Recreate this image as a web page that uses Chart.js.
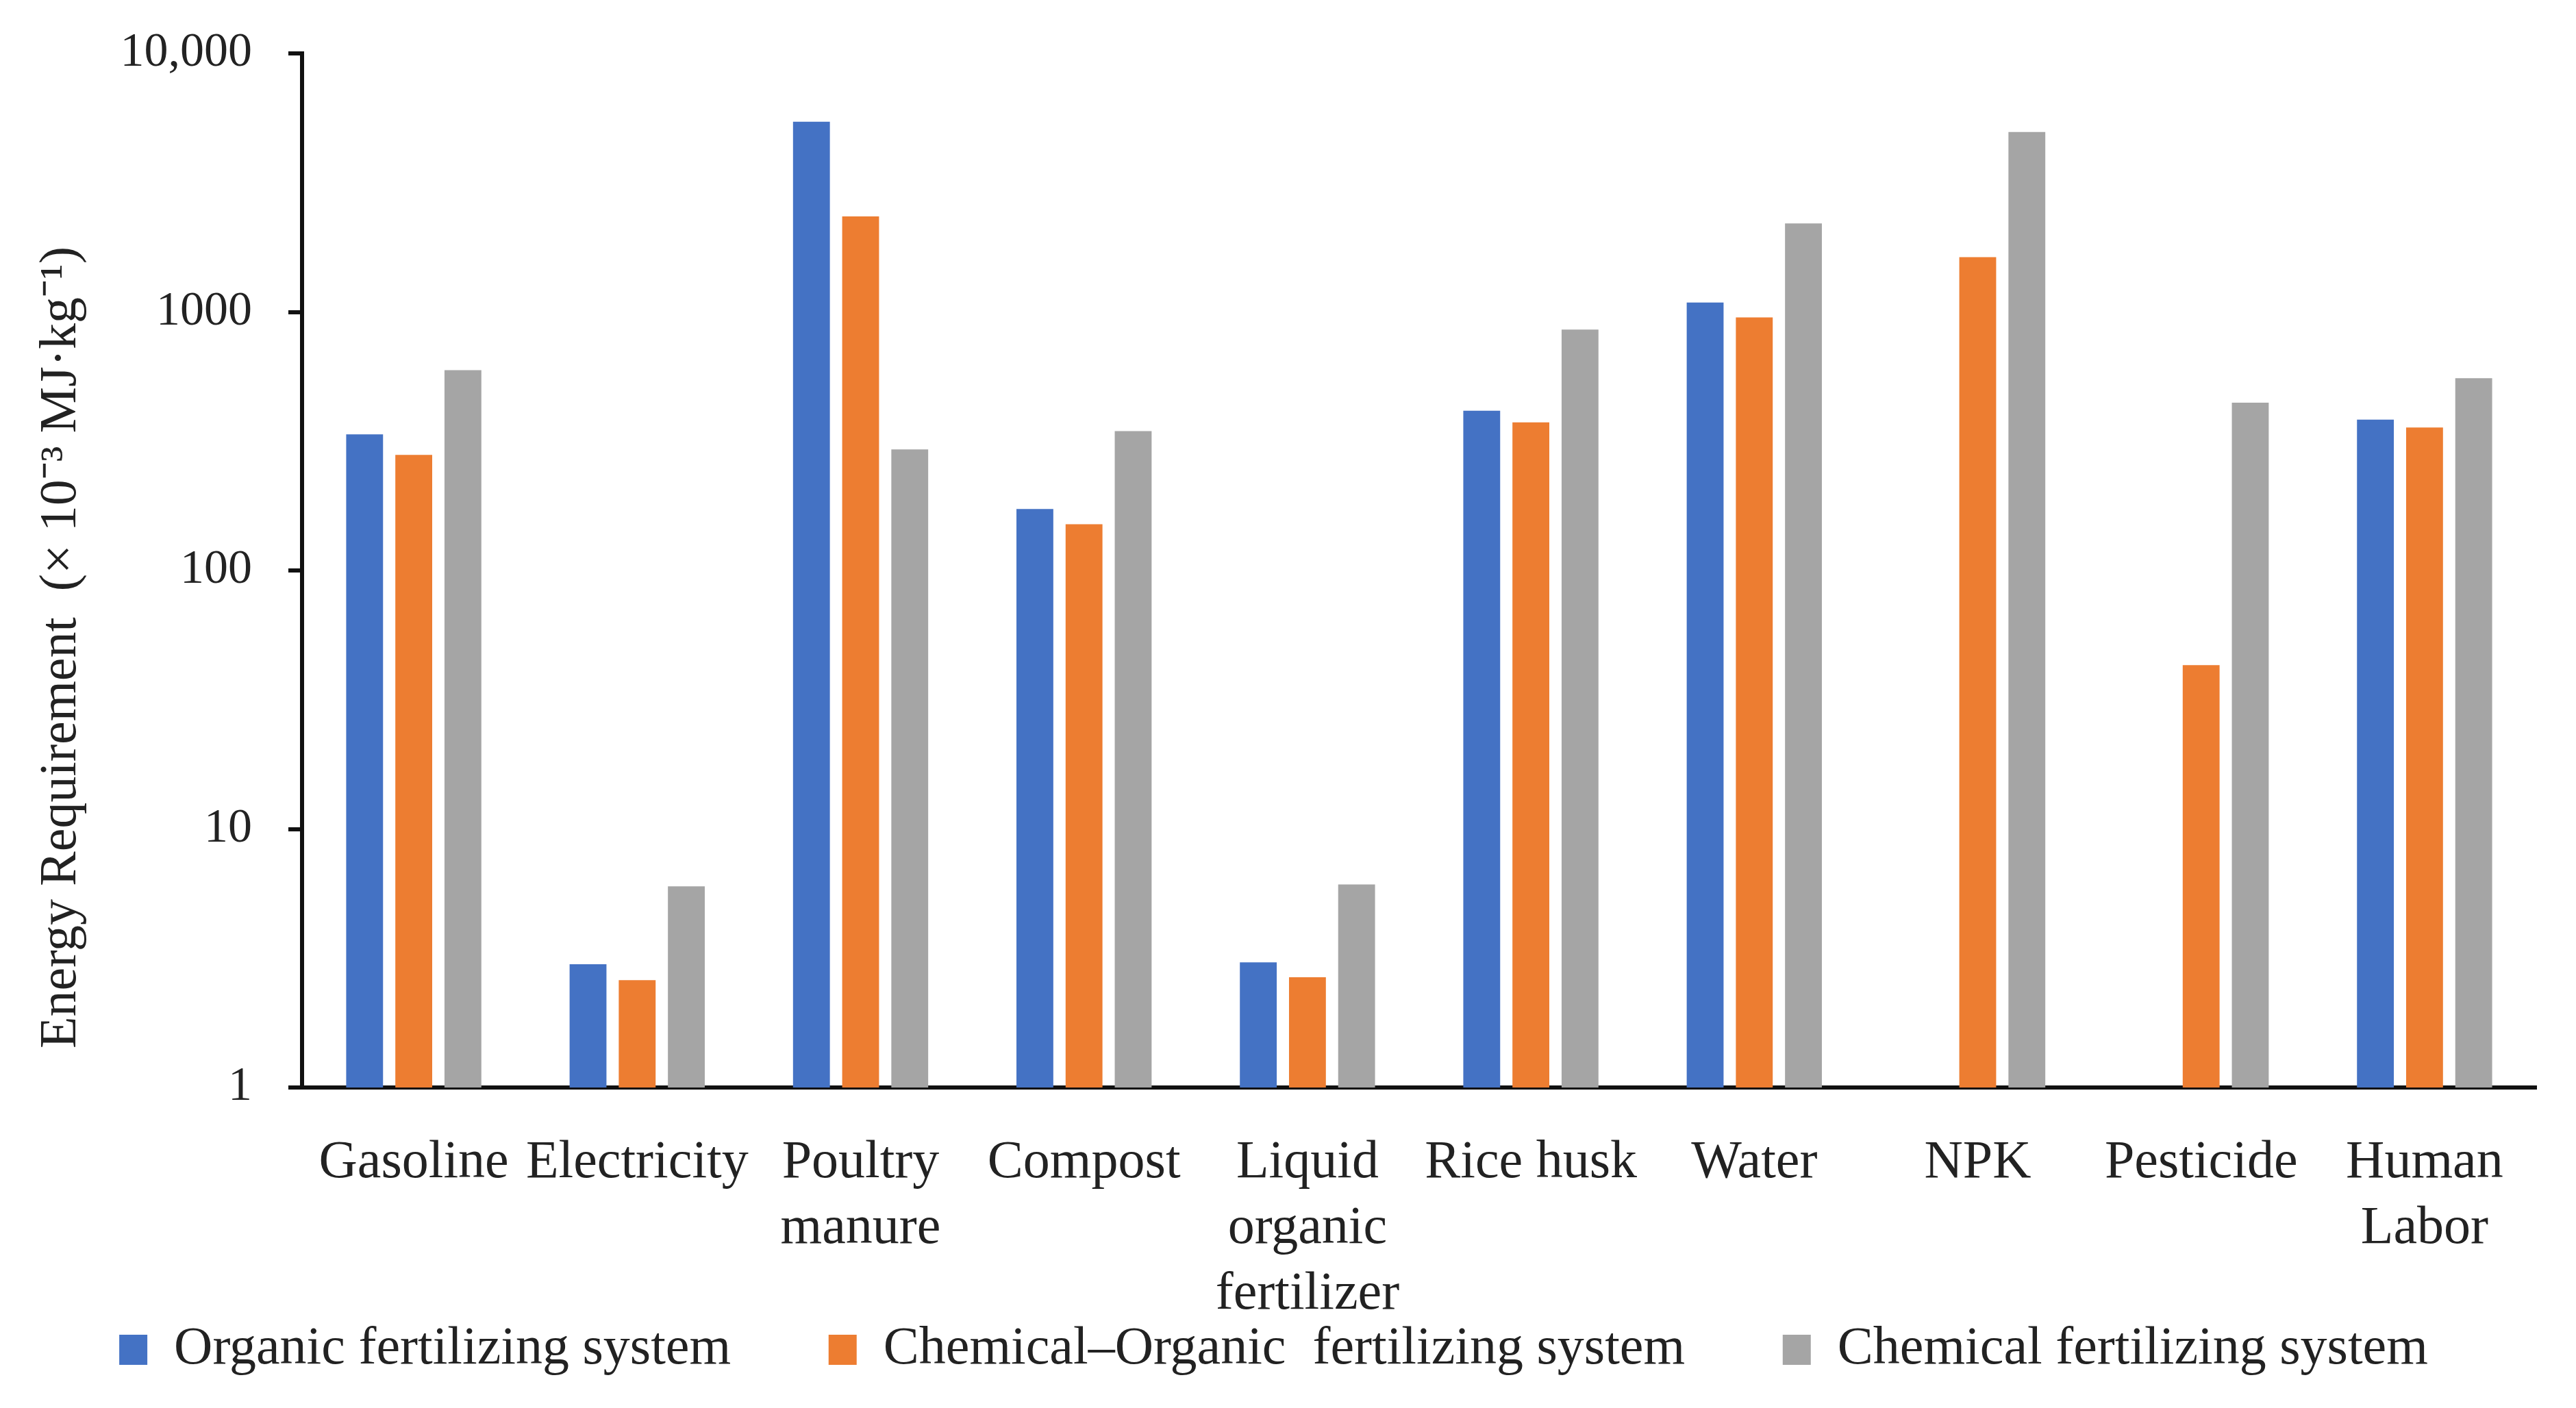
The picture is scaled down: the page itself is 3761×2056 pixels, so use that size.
<!DOCTYPE html>
<html>
<head>
<meta charset="utf-8">
<script src="https://cdn.jsdelivr.net/npm/chart.js@4.4.0/dist/chart.umd.min.js"></script>
<style>
  html, body { margin: 0; padding: 0; background: #fff; }
</style>
</head>
<body>
<canvas id="energyChart" width="3761" height="2056"></canvas>
<script>
// categories on the x axis (multi-line ones are arrays)
const categories = ['Gasoline', 'Electricity', ['Poultry', 'manure'], 'Compost', ['Liquid', 'organic', 'fertilizer'],
    'Rice husk', 'Water', 'NPK', 'Pesticide', ['Human', 'Labor']];

// values (x 10^-3 MJ/kg)
const organic = [336, 3.0, 5440, 173, 3.05, 415, 1088, null, null, 383];
const chemOrganic = [280, 2.6, 2340, 151, 2.67, 374, 953, 1630, 43, 357];
const chemical = [595, 6.0, 294, 346, 6.1, 855, 2200, 4970, 446, 554];

const yTicks = [1, 10, 100, 1000, 10000];
const yTickLabels = ['1', '10', '100', '1000', '10,000'];

const serif = 'Liberation Serif';
const textColor = '#222';
// extra room between legend entries (legend padding also pads vertically)
const legendGap = '\u2003\u2002\u2009';

window.onload = function() {
    const ctx = document.getElementById('energyChart');

    new Chart(ctx, {
        type: 'bar',
        data: {
            labels: categories,
            datasets: [{
                label: 'Organic fertilizing system',
                data: organic,
                backgroundColor: '#4472C4'
            }, {
                label: 'Chemical\u2013Organic  fertilizing system',
                data: chemOrganic,
                backgroundColor: '#ED7D31'
            }, {
                label: 'Chemical fertilizing system',
                data: chemical,
                backgroundColor: '#A5A5A5'
            }]
        },
        options: {
            responsive: false,
            animation: false,
            devicePixelRatio: 1,
            datasets: {
                bar: {
                    categoryPercentage: 0.66,
                    barPercentage: 0.75
                }
            },
            layout: {
                padding: { left: 16, right: 58, top: 78, bottom: 36 }
            },
            scales: {
                x: {
                    grid: { display: false },
                    border: { display: true, color: '#111', width: 6 },
                    ticks: {
                        color: textColor,
                        font: { family: serif, size: 78, lineHeight: 1.23 },
                        padding: 55,
                        maxRotation: 0,
                        minRotation: 0,
                        autoSkip: false
                    },
                    afterFit: function(scale) {
                        scale.height = 334;
                    }
                },
                y: {
                    type: 'logarithmic',
                    min: 1,
                    max: 10000,
                    grid: {
                        drawOnChartArea: false,
                        drawTicks: true,
                        tickLength: 20,
                        color: '#111',
                        lineWidth: 6
                    },
                    border: { color: '#111', width: 6 },
                    afterBuildTicks: function(scale) {
                        scale.ticks = yTicks.map(v => ({ value: v }));
                    },
                    ticks: {
                        color: textColor,
                        font: { family: serif, size: 70 },
                        padding: 53,
                        callback: function(value) {
                            return yTickLabels[yTicks.indexOf(value)];
                        }
                    },
                    title: {
                        display: true,
                        align: 'start',
                        text: '   Energy Requirement  (\u00d7 10\u207b\u00b3 MJ\u00b7kg\u207b\u00b9)',
                        color: textColor,
                        font: { family: serif, size: 76 },
                        padding: { top: 28, bottom: 0 }
                    },
                    afterFit: function(scale) {
                        scale.width = 441 - 16;
                        // the big tick padding should not push the plot down
                        scale.paddingTop = 40;
                        scale.paddingBottom = 40;
                    }
                }
            },
            plugins: {
                legend: {
                    position: 'bottom',
                    labels: {
                        boxWidth: 41,
                        boxHeight: 44,
                        padding: 10,
                        color: textColor,
                        font: { family: serif, size: 78 },
                        generateLabels: function(chart) {
                            const items = Chart.defaults.plugins.legend.labels.generateLabels(chart);
                            items.forEach((item, i) => {
                                if (i < items.length - 1) item.text += legendGap;
                            });
                            return items;
                        }
                    }
                },
                tooltip: { enabled: false }
            }
        }
    });
}
</script>
</body>
</html>
